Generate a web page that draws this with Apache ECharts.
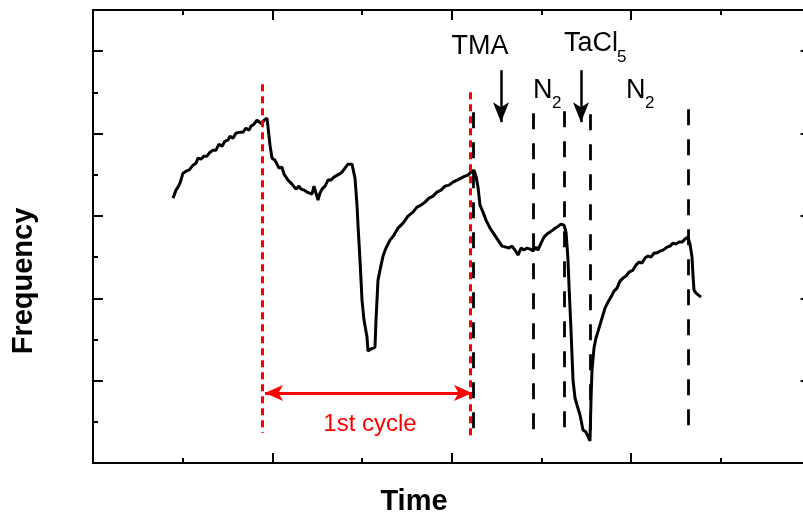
<!DOCTYPE html>
<html>
<head>
<meta charset="utf-8">
<script src="https://cdn.jsdelivr.net/npm/echarts@6/dist/echarts.min.js"></script>
<style>
html, body { margin: 0; padding: 0; background: #fff; }
#main { width: 803px; height: 512px; }
</style>
</head>
<body>
<div id="main"></div>
<script>
// frequency trace (arbitrary units)
var timeData = [80, 83, 85, 87, 90, 93, 96, 100, 103, 105, 108, 111, 114, 117, 120, 123, 126, 129, 132, 135,
	137, 140, 143, 147, 150, 153, 156, 158, 161, 164, 166, 169, 171, 174, 175, 177, 179, 182, 184, 186,
	189, 191, 193, 195, 197, 199, 201, 203, 206, 208, 211, 214, 216, 219, 221, 223, 225, 227, 229, 232,
	235, 238, 241, 243, 246, 249, 252, 255, 259, 262, 264, 265, 267, 269, 271, 274, 275, 278, 282, 283,
	285, 287, 290, 293, 297, 301, 305, 310, 315, 320, 324, 328, 332, 336, 340, 344, 348, 352, 356, 360,
	364, 368, 372, 375, 378, 381, 383, 385, 387, 390, 393, 397, 401, 405, 409, 413, 416, 419, 422, 425,
	428, 431, 434, 437, 440, 443, 445, 448, 451, 454, 457, 461, 464, 468, 471, 473, 474, 475, 476, 478,
	480, 482, 484, 487, 490, 493, 495, 497, 498, 499, 501, 503, 506, 509, 512, 515, 518, 521, 524, 527,
	530, 533, 536, 540, 543, 546, 549, 552, 555, 558, 561, 564, 567, 570, 574, 577, 580, 583, 586, 589,
	592, 595, 597, 599, 600, 601, 603, 605, 608];
var freqData = [265, 273, 276, 280, 290, 292, 293, 298, 300, 305, 304, 307, 307, 311, 313, 313, 319, 317, 322, 323,
	327, 325, 330, 331, 331, 335, 333, 337, 339, 343, 344, 339, 343, 345, 336, 318, 305, 303, 301, 295,
	296, 289, 290, 283, 284, 279, 281, 274, 277, 274, 273, 271, 272, 269, 277, 270, 263, 270, 274, 277,
	283, 283, 286, 284, 289, 291, 295, 299, 299, 285, 258, 238, 203, 163, 143, 126, 112, 114, 116, 143,
	183, 193, 207, 215, 223, 228, 235, 240, 247, 251, 256, 258, 261, 265, 267, 271, 273, 277, 278, 281,
	283, 285, 287, 288, 291, 293, 287, 276, 258, 251, 243, 235, 229, 223, 217, 216, 215, 217, 213, 208,
	215, 213, 215, 214, 212, 216, 213, 220, 226, 229, 231, 234, 236, 239, 238, 231, 218, 203, 178, 133,
	83, 65, 58, 48, 33, 31, 30, 22, 63, 93, 115, 125, 135, 145, 155, 161, 166, 172, 175, 182,
	185, 187, 191, 193, 198, 201, 200, 205, 207, 206, 210, 210, 212, 213, 216, 217, 220, 219, 221, 221,
	224, 226, 219, 206, 188, 173, 170, 169, 166];

// cycle boundaries (red) and pulse switches (black)
var cycleTimes = [169, 377];
var cycleTops = [379, 371];
var cycleBottoms = [30, 23];
var pulseTimes = [380, 440, 471, 497, 595];
var pulseTops = [351, 350, 352, 349, 354];
var pulseBottoms = [23, 23, 25, 23, 25];
// precursor arrows (TMA, TaCl5)
var doseTimes = [408, 488];
var doseFrom = 393;
var doseTo = 341;
// 1st cycle span
var spanTimes = [172, 379];
var spanLevel = 70;

var pairs = [];
var i;
for (i = 0; i < cycleTimes.length; i++) {
	pairs.push([
		{coord: [cycleTimes[i], cycleTops[i]], symbol: 'none', lineStyle: {color: '#ff0000', width: 3, type: [7, 5]}},
		{coord: [cycleTimes[i], cycleBottoms[i]], symbol: 'none'}
	]);
}
for (i = 0; i < pulseTimes.length; i++) {
	pairs.push([
		{coord: [pulseTimes[i], pulseTops[i]], symbol: 'none', lineStyle: {color: '#000', width: 2.8, type: [16, 14]}},
		{coord: [pulseTimes[i], pulseBottoms[i]], symbol: 'none'}
	]);
}
for (i = 0; i < doseTimes.length; i++) {
	pairs.push([
		{coord: [doseTimes[i], doseFrom], symbol: 'none', lineStyle: {color: '#000', width: 2.5, type: 'solid'}},
		{coord: [doseTimes[i], doseTo], symbol: 'arrow', symbolSize: [12, 20]}
	]);
}
pairs.push([
	{coord: [spanTimes[0], spanLevel], symbol: 'arrow', symbolSize: [12, 18], lineStyle: {color: '#ff0000', width: 3, type: 'solid'}},
	{coord: [spanTimes[1], spanLevel], symbol: 'arrow', symbolSize: [12, 18]}
]);

var points = [];
for (i = 0; i < timeData.length; i++) {
	points.push([timeData[i], freqData[i]]);
}

var frame = {color: '#000', width: 2};
function xAx(pos) {
	return {
		type: 'value', position: pos, min: 0, max: 717.6, interval: 179.4,
		axisLine: {show: true, onZero: false, lineStyle: frame},
		axisTick: {show: true, inside: true, length: 10, lineStyle: frame},
		minorTick: {show: true, splitNumber: 2, length: 5, lineStyle: frame},
		axisLabel: {show: false},
		splitLine: {show: false}
	};
}
function yAx(pos, step, len) {
	return {
		type: 'value', position: pos, min: 0, max: 453.2, interval: step,
		axisLine: {show: true, onZero: false, lineStyle: frame},
		axisTick: {show: true, inside: true, length: len, lineStyle: frame},
		axisLabel: {show: false},
		splitLine: {show: false}
	};
}

var font = '"Liberation Sans", Arial, sans-serif';
function txt(s, x, y, size, opt) {
	opt = opt || {};
	return {
		type: 'text', x: x, y: y, rotation: opt.rot || 0, silent: true,
		style: {
			text: s, x: 0, y: 0, fill: opt.color || '#000',
			font: (opt.bold ? 'bold ' : '') + size + 'px ' + font,
			textAlign: opt.align || 'left', textVerticalAlign: 'middle'
		}
	};
}

var option = {
	animation: false,
	grid: {left: 93, top: 10, width: 717.6, height: 453, containLabel: false, outerBoundsMode: 'none'},
	xAxis: [xAx('bottom'), xAx('top')],
	yAxis: [yAx('left', 41.2, 5), yAx('left', 82.4, 10), yAx('right', 82.4, 10)],
	series: [{
		type: 'line',
		data: points,
		showSymbol: false,
		symbol: 'none',
		lineStyle: {color: '#000', width: 3},
		markLine: {
			silent: true,
			animation: false,
			symbol: ['none', 'none'],
			label: {show: false},
			data: pairs
		}
	}],
	graphic: [
		txt('Frequency', 24, 281, 29, {bold: true, align: 'center', rot: Math.PI / 2}),
		txt('Time', 414, 502, 29, {bold: true, align: 'center'}),
		txt('TMA', 480, 47, 27, {align: 'center'}),
		txt('TaCl', 564, 44, 27),
		txt('5', 617, 57, 17),
		txt('N', 533, 91, 27),
		txt('2', 552, 103, 17),
		txt('N', 626, 91, 27),
		txt('2', 645, 103, 17),
		txt('1st cycle', 370, 424, 24, {align: 'center', color: '#ff0000'})
	]
};

var myChart = echarts.init(document.getElementById('main'));
myChart.setOption(option);
</script>
</body>
</html>
